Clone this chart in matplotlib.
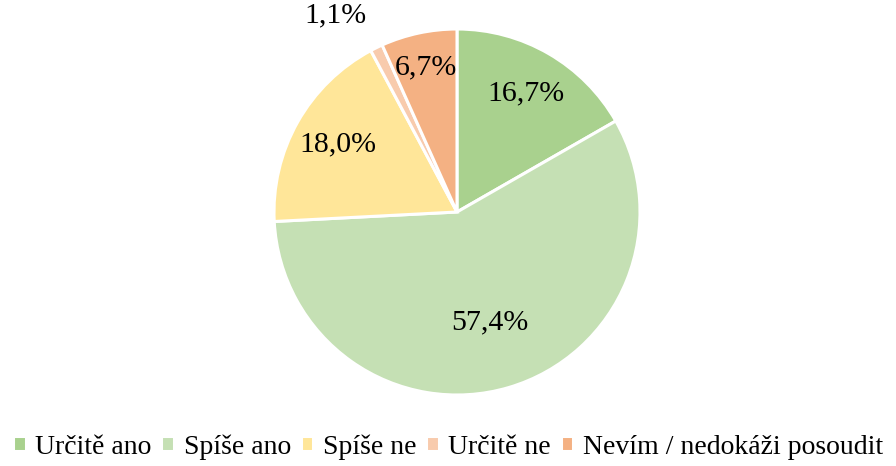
import matplotlib.pyplot as plt
import numpy as np

categories = ['Určitě ano', 'Spíše ano', 'Spíše ne', 'Určitě ne', 'Nevím / nedokáži posoudit']
values = [16.7, 57.4, 18.0, 1.1, 6.7]
labels = ['16,7%', '57,4%', '18,0%', '1,1%', '6,7%']
colors = ['#A9D18E', '#C5E0B4', '#FFE699', '#F8CBAD', '#F4B183']
label_dist = [0.75, 0.63, 0.75, 1.12, 0.81]

plt.rcParams['font.family'] = ['Liberation Serif', 'DejaVu Serif']

fig = plt.figure(figsize=(8.96, 4.66), dpi=100)
ax = fig.add_axes([274 / 896, 71 / 466, 366 / 896, 366 / 466])

wedges, _ = ax.pie(values, colors=colors, startangle=90, counterclock=False,
                   wedgeprops=dict(edgecolor='white', linewidth=2.2))

# percentage labels placed along each wedge's middle angle
for i, (w, lab, d) in enumerate(zip(wedges, labels, label_dist)):
    mid = np.deg2rad((w.theta1 + w.theta2) / 2)
    if d > 1:
        # small slice: label outside, anchored at its lower right corner
        ax.text(d * np.cos(mid), d * np.sin(mid), lab, ha='right', va='bottom',
                fontsize=21.5, clip_on=False)
    else:
        ax.text(d * np.cos(mid), d * np.sin(mid), lab, ha='center', va='center',
                fontsize=21.5)

ax.set_xlim(-1, 1)
ax.set_ylim(-1, 1)
ax.set_aspect('equal')
ax.axis('off')

fig.legend(wedges, categories, loc='center', bbox_to_anchor=(0.5, 19 / 466),
           ncol=5, frameon=False, fontsize=20, handlelength=0.45, handleheight=0.45,
           handletextpad=0.35, columnspacing=0.35, borderpad=0, borderaxespad=0)

fig.savefig('out.png', dpi=100)
